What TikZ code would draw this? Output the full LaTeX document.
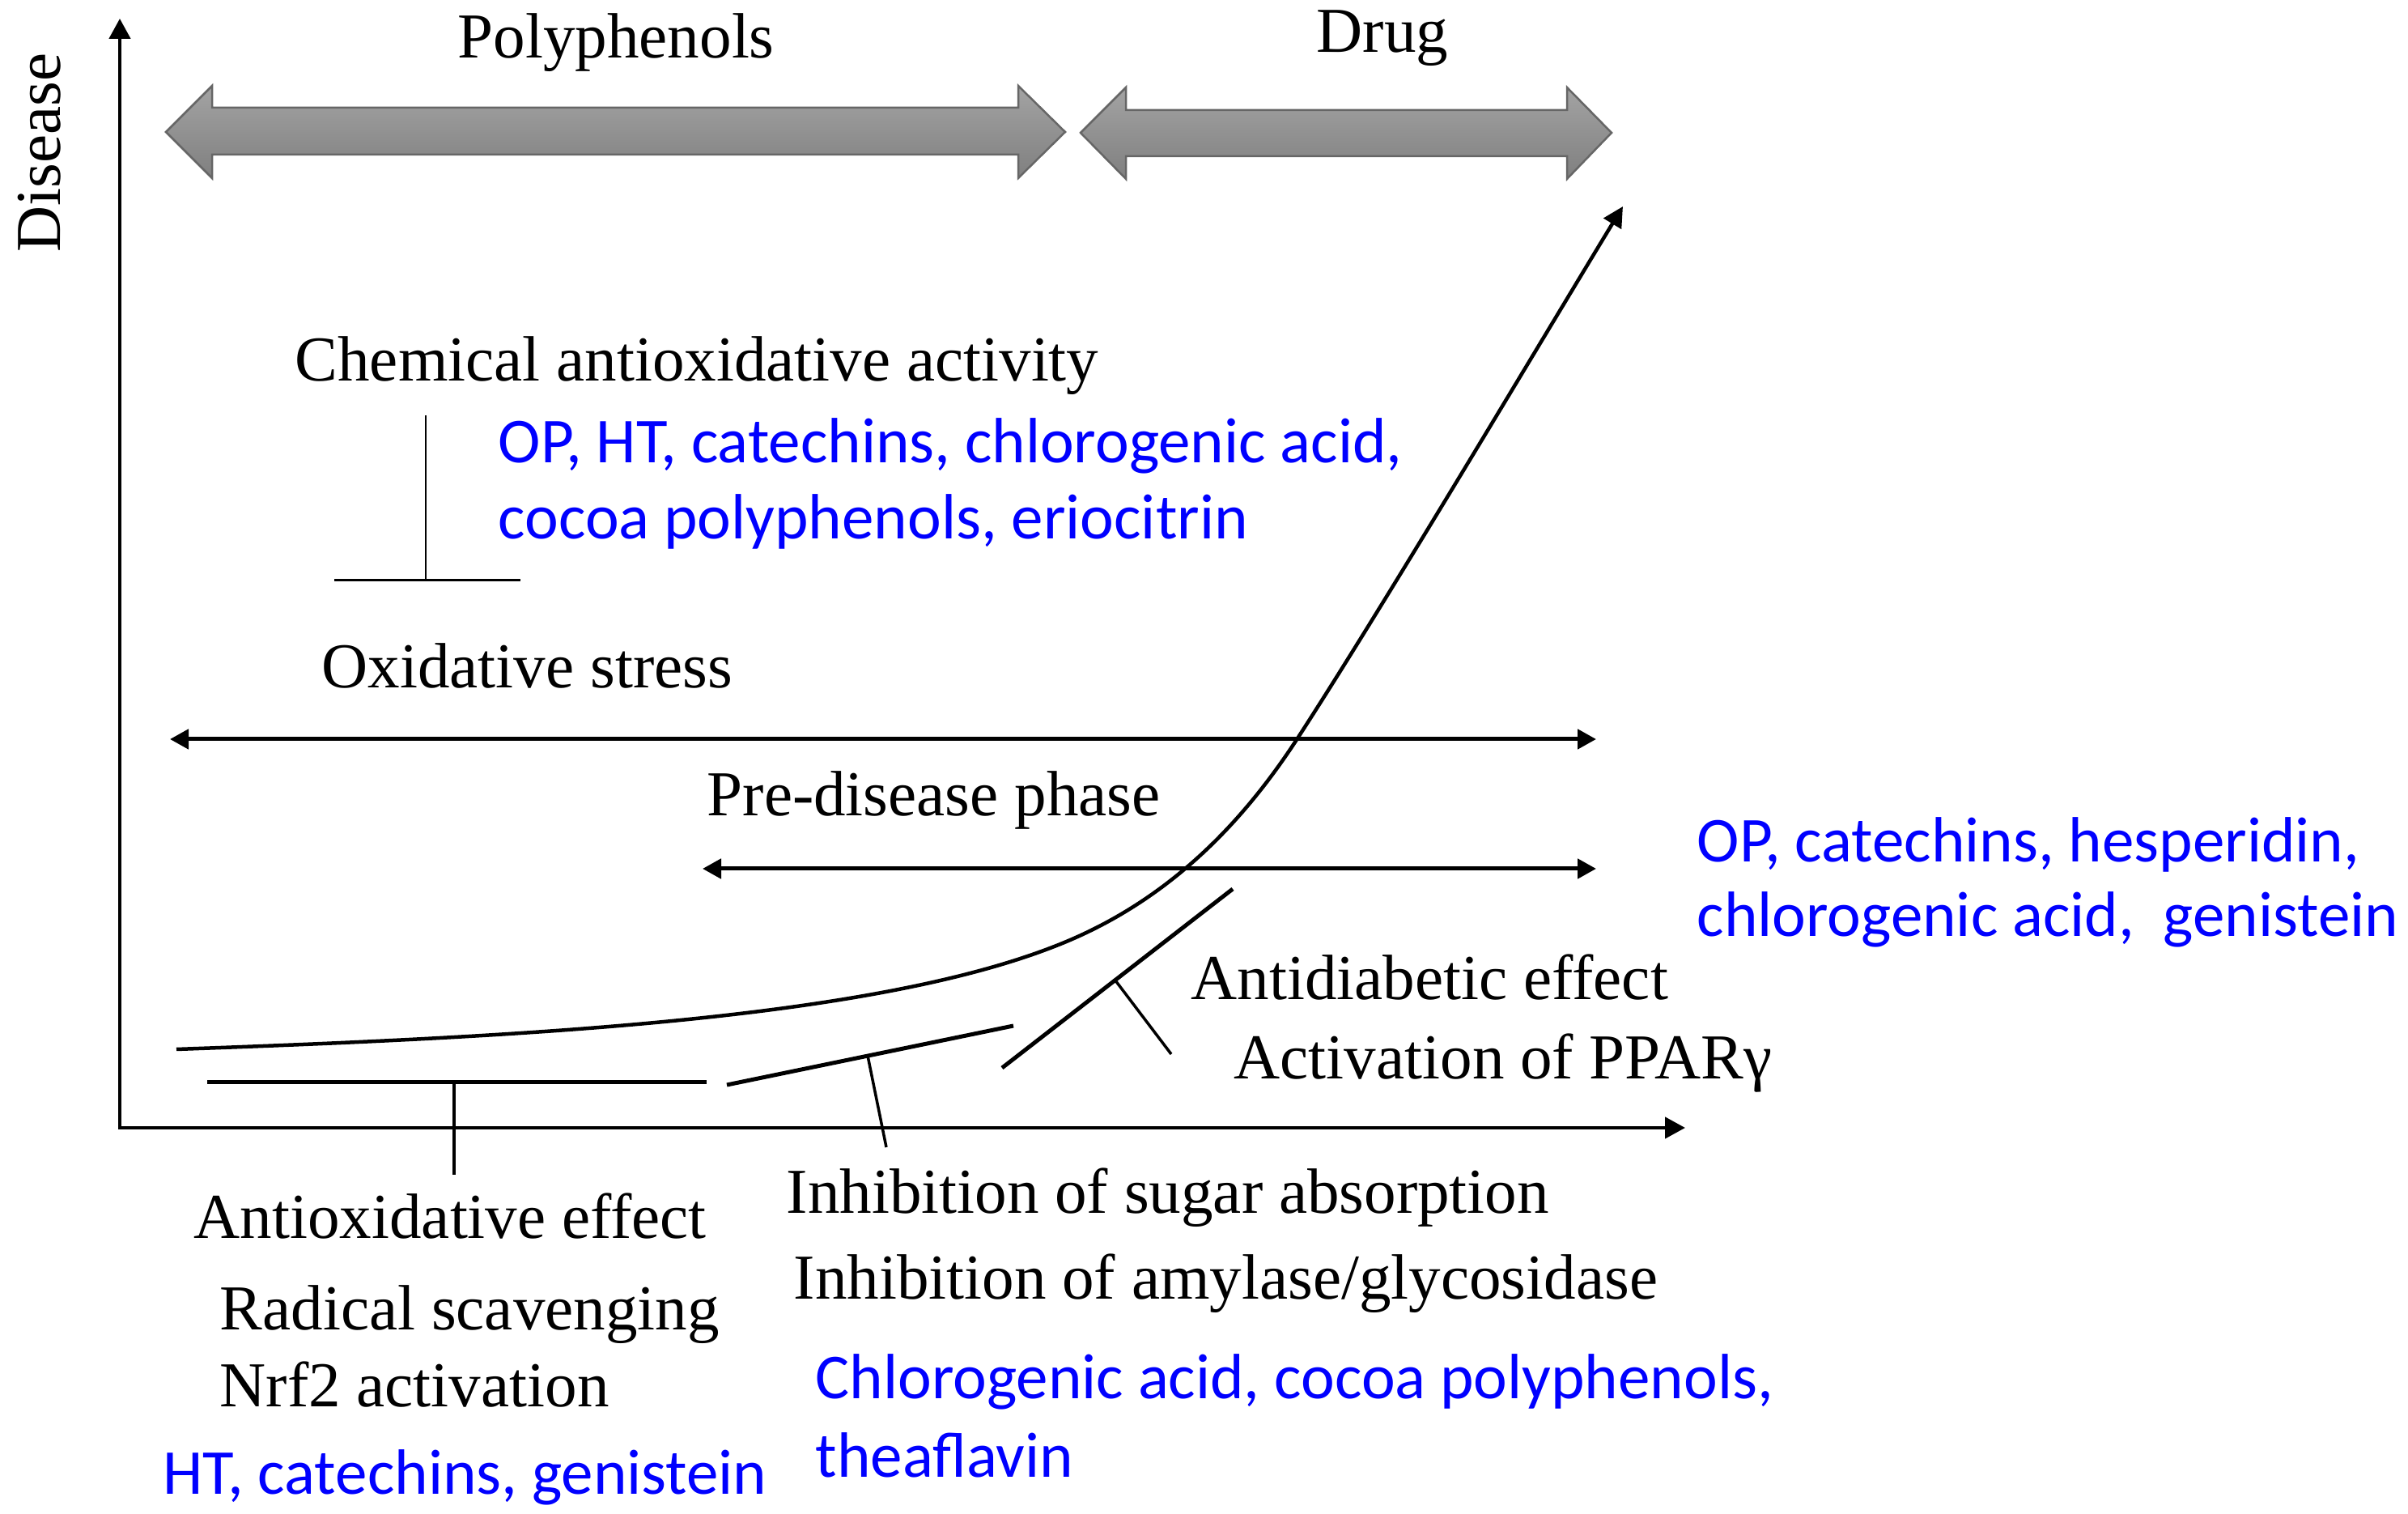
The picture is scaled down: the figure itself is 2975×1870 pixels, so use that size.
\documentclass[tikz,border=0pt]{standalone}
\usepackage{fontspec}
\setmainfont{Liberation Serif}
\newfontfamily\cmpfont{Carlito}
\usetikzlibrary{arrows.meta}

\begin{document}
\begin{tikzpicture}[
    x = 0.1mm, y = -0.1mm, % one unit per pixel, y downwards
    txt/.style = {font=\fontsize{22.5}{26}\selectfont, inner sep=0pt, anchor=base west},
    cmp/.style = {txt, font=\cmpfont\fontsize{22.5}{26}\selectfont, text=blue},
    axis/.style = {line width=0.45mm, line join=miter,
        {Triangle[length=2.5mm, width=2.6mm]}-{Triangle[length=2.5mm, width=2.6mm]}},
    span/.style = {line width=0.5mm,
        {Triangle[length=2.3mm, width=2.4mm]}-{Triangle[length=2.3mm, width=2.4mm]}},
    curve/.style = {line width=0.45mm, -{Triangle[length=2.5mm, width=2.5mm]}},
    bar/.style = {line width=0.5mm},
    tick/.style = {line width=0.35mm},
    block/.style = {draw=black!60, line width=0.25mm, top color=black!36, bottom color=black!50}
]
\useasboundingbox (0,0) rectangle (2975,1870);

% Axes
\coordinate (ytop) at (148,23);
\coordinate (o) at (148,1393);
\coordinate (xend) at (2082,1393);
\draw[axis] (ytop) -- (o) -- (xend);
\node[txt, rotate=90] (disease) at (75,312) {Disease};

% Gray block arrows
\draw[block] (205,163) -- (262,106) -- (262,133) -- (1258,133) -- (1258,106) -- (1316,163)
    -- (1258,220) -- (1258,191) -- (262,191) -- (262,220) -- cycle;
\draw[block] (1335,164) -- (1391,108) -- (1391,136) -- (1936,136) -- (1936,108) -- (1991,164)
    -- (1936,221) -- (1936,193) -- (1391,193) -- (1391,221) -- cycle;
\node[txt] (poly) at (565,72) {Polyphenols};
\node[txt] (drug) at (1626,65) {Drug};

% Chemical activity
\node[txt] (chem) at (364,471) {Chemical antioxidative activity};
\coordinate (c1) at (526,513);
\coordinate (c2) at (526,717);
\coordinate (c3) at (413,717);
\coordinate (c4) at (643,717);
\draw[tick, line width=0.25mm] (c1) -- (c2);
\draw[tick, line width=0.3mm] (c3) -- (c4);
\node[cmp] (chemc1) at (615,572) {OP, HT, catechins, chlorogenic acid,};
\node[cmp] (chemc2) at (615,666) {cocoa polyphenols, eriocitrin};

% Phases
\node[txt] (ox) at (397,850) {Oxidative stress};
\coordinate (ox1) at (210,913);
\coordinate (ox2) at (1972,913);
\draw[span] (ox1) -- (ox2);
\node[txt] (pre) at (873,1008) {Pre-disease phase};
\coordinate (pd1) at (868,1073);
\coordinate (pd2) at (1972,1073);
\draw[span] (pd1) -- (pd2);

% Disease curve
\coordinate (k0) at (218,1296);
\coordinate (k1) at (1300,1170);
\coordinate (k2) at (1603,912);
\coordinate (k3) at (2005,255);
\draw[curve] (k0) .. controls (638,1281) and (1067,1260) .. (k1)
    .. controls (1431,1120) and (1527,1029) .. (k2)
    .. controls (1712,744) and (1901,426) .. (k3);

% Effects
\coordinate (s1a) at (256,1337);
\coordinate (s1b) at (873,1337);
\coordinate (t1a) at (561,1337);
\coordinate (t1b) at (561,1451);
\draw[bar] (s1a) -- (s1b);
\draw[tick] (t1a) -- (t1b);

\coordinate (s2a) at (898,1340);
\coordinate (s2b) at (1252,1267);
\coordinate (t2a) at (1072,1304);
\coordinate (t2b) at (1095,1417);
\draw[bar] (s2a) -- (s2b);
\draw[tick] (t2a) -- (t2b);

\coordinate (s3a) at (1238,1319);
\coordinate (s3b) at (1523,1098);
\coordinate (t3a) at (1378,1211);
\coordinate (t3b) at (1447,1302);
\draw[bar] (s3a) -- (s3b);
\draw[tick] (t3a) -- (t3b);

\node[txt] (antiox) at (239,1530) {Antioxidative effect};
\node[txt] (radical) at (271,1642) {Radical scavenging};
\node[txt] (nrf) at (271,1737) {Nrf2 activation};
\node[cmp] (antioxc) at (201,1845) {HT, catechins, genistein};

\node[txt] (sugar) at (971,1499) {Inhibition of sugar absorption};
\node[txt] (amyl) at (980,1605) {Inhibition of amylase/glycosidase};
\node[cmp] (sugarc1) at (1007,1727) {Chlorogenic acid, cocoa polyphenols,};
\node[cmp] (sugarc2) at (1007,1824) {theaflavin};

\node[txt] (diab) at (1471,1235) {Antidiabetic effect};
\node[txt] (ppar) at (1524,1333) {Activation of PPARγ};
\node[cmp] (diabc1) at (2096,1065) {OP, catechins, hesperidin,};
\node[cmp] (diabc2) at (2096,1157) {chlorogenic acid,\ \ genistein};

\end{tikzpicture}
\end{document}
